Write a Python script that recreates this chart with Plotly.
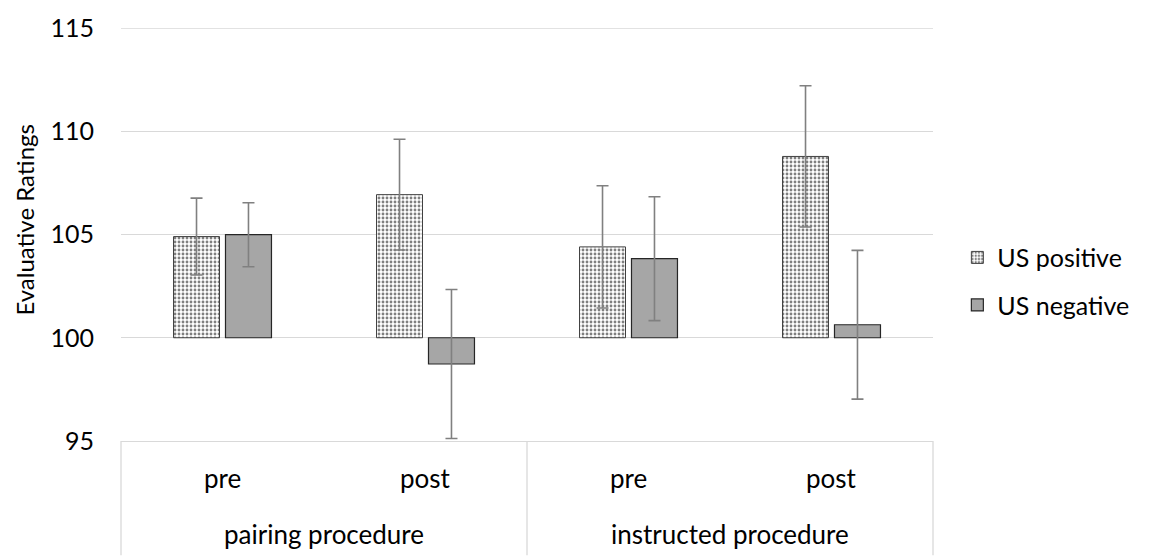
import plotly.graph_objects as go

# ---- data ----
procedures = ["pairing procedure", "pairing procedure", "instructed procedure", "instructed procedure"]
phases = ["pre", "post", "pre", "post"]
procedure_labels = ["pairing procedure", "instructed procedure"]
series_names = ["US positive", "US negative"]
pos_values = [104.90, 106.93, 104.40, 108.78]
pos_errors = [1.86, 2.68, 2.96, 3.42]
neg_values = [104.99, 98.73, 103.83, 100.63]
neg_errors = [1.55, 3.61, 3.00, 3.60]
baseline = 100
y_ticks = [95, 100, 105, 110, 115]
y_title = "Evaluative Ratings"

FONT = "Lato"
GRID = "#d9d9d9"
PLOT_H = 557 - 22 - 116  # plot area height in px

fig = go.Figure()

fig.add_trace(go.Bar(
    name=series_names[0],
    x=[procedures, phases],
    y=[v - baseline for v in pos_values],
    base=baseline,
    marker=dict(
        color="white",
        line=dict(color="#404040", width=1),
        pattern=dict(shape=".", fgcolor="#000000", bgcolor="white", size=4, solidity=0.4),
    ),
    error_y=dict(type="data", array=pos_errors, color="#808080", thickness=1.6, width=6),
    legendgroup="a",
))
fig.add_trace(go.Bar(
    name=series_names[1],
    x=[procedures, phases],
    y=[v - baseline for v in neg_values],
    base=baseline,
    marker=dict(color="#a6a6a6", line=dict(color="#262626", width=1.2)),
    error_y=dict(type="data", array=neg_errors, color="#808080", thickness=1.6, width=6),
    legendgroup="b",
))

annotations = [dict(
    text=y_title, textangle=-90, xref="paper", yref="paper",
    x=-0.119, y=0.537, xanchor="center", yanchor="middle",
    showarrow=False, font=dict(family=FONT, size=24, color="#000000"),
)]
n = len(phases)
for i, ph in enumerate(phases):
    annotations.append(dict(
        text=ph, xref="paper", yref="paper", x=(i + 0.5) / n, y=-38 / PLOT_H,
        xanchor="center", yanchor="middle", showarrow=False,
        font=dict(family=FONT, size=26, color="#000000"),
    ))
m = len(procedure_labels)
for j, pr in enumerate(procedure_labels):
    annotations.append(dict(
        text=pr, xref="paper", yref="paper", x=(j + 0.5) / m, y=-94 / PLOT_H,
        xanchor="center", yanchor="middle", showarrow=False,
        font=dict(family=FONT, size=26, color="#000000"),
    ))

shapes = [dict(type="line", xref="paper", yref="y", x0=0, x1=1, y0=y_ticks[-1], y1=y_ticks[-1],
               line=dict(color=GRID, width=1.3), layer="below")]
for k in range(m + 1):
    shapes.append(dict(type="line", xref="paper", yref="paper", x0=k / m, x1=k / m,
                       y0=0, y1=-116 / PLOT_H, line=dict(color=GRID, width=1.3)))

fig.update_layout(
    width=1155, height=557,
    margin=dict(l=121, r=222, t=22, b=116),
    paper_bgcolor="white", plot_bgcolor="white",
    barmode="group", bargap=0.488, bargroupgap=0.115,
    font=dict(family=FONT, size=25, color="#000000"),
    showlegend=True,
    legend=dict(
        x=1.03, xanchor="left", y=0.387, yanchor="middle",
        font=dict(family=FONT, size=25, color="#000000"),
        traceorder="grouped", tracegroupgap=12,
        bgcolor="rgba(0,0,0,0)",
    ),
    annotations=annotations,
    shapes=shapes,
)

fig.update_yaxes(
    range=[95, 115], tickvals=y_ticks, ticktext=[str(t) for t in y_ticks],
    showgrid=True, gridcolor=GRID, gridwidth=1.3,
    zeroline=False, showline=False, ticks="",
    ticklabelstandoff=26,
    tickfont=dict(family=FONT, size=25, color="#000000"),
)
fig.update_xaxes(
    type="multicategory",
    showline=True, linecolor=GRID, linewidth=1.3,
    showdividers=False, showticklabels=False,
    ticks="", showgrid=False,
)

fig.write_html("out.html")
